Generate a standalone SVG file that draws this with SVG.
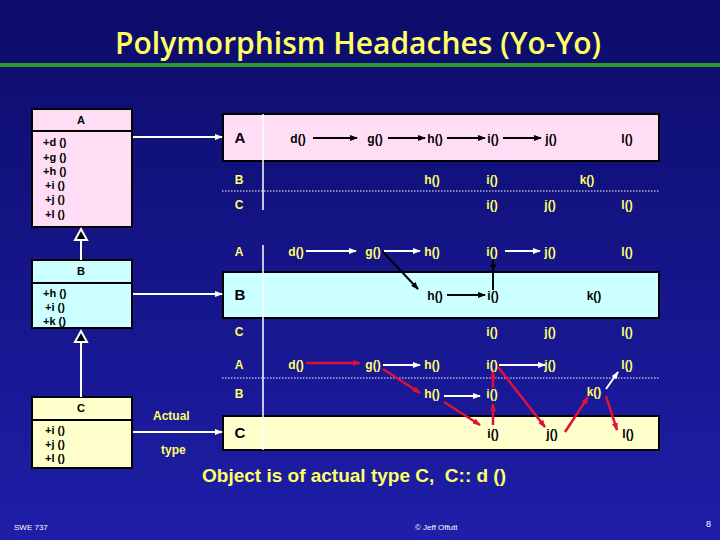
<svg xmlns="http://www.w3.org/2000/svg" width="720" height="540" viewBox="0 0 720 540">
<defs>
<linearGradient id="bg" x1="0" y1="0" x2="0" y2="1"><stop offset="0" stop-color="#0c0c6a"/><stop offset="1" stop-color="#1e1ea8"/></linearGradient>
<marker id="aw" markerWidth="8" markerHeight="6" refX="7" refY="3" orient="auto" markerUnits="userSpaceOnUse"><path d="M0,0L8,3L0,6z" fill="#fff"/></marker>
<marker id="ak" markerWidth="8" markerHeight="6" refX="7" refY="3" orient="auto" markerUnits="userSpaceOnUse"><path d="M0,0L8,3L0,6z" fill="#000"/></marker>
<marker id="ar" markerWidth="8" markerHeight="6" refX="7" refY="3" orient="auto" markerUnits="userSpaceOnUse"><path d="M0,0L8,3L0,6z" fill="#e0103a"/></marker>
<style>
text{font-family:"Liberation Sans",Arial,sans-serif;font-weight:bold}
.t{font-size:12px}
.s{font-size:11px;fill:#000}
.y{fill:#ffff66}
.k{fill:#000}
.big{font-size:19px;white-space:pre}
.w{stroke:#fff;stroke-width:2;fill:none}
.bk{stroke:#000;stroke-width:2;fill:none}
.rd{stroke:#e0103a;stroke-width:2.5;fill:none}
.box{stroke:#000;stroke-width:2}
</style>
</defs>
<rect width="720" height="540" fill="url(#bg)"/>
<text x="358" y="54" text-anchor="middle" font-size="30" fill="#ffff66" style="font-family:'Open Sans','Liberation Sans',sans-serif;font-weight:600">Polymorphism Headaches (Yo-Yo)</text>
<rect x="0" y="63" width="720" height="4" fill="#2a9a2a"/>

<g id="umlA"><rect class="box" x="32" y="109" width="100" height="118" fill="#ffddf5"/><line x1="32" y1="131" x2="132" y2="131" stroke="#000" stroke-width="2"/>
<text x="81" y="124" text-anchor="middle" class="s">A</text>
<text class="s" x="43" y="146">+d ()</text><text class="s" x="43" y="161">+g ()</text><text class="s" x="43" y="175">+h ()</text><text class="s" x="45" y="189">+i ()</text><text class="s" x="45" y="203">+j ()</text><text class="s" x="45" y="218">+l ()</text></g>
<g id="umlB"><rect class="box" x="32" y="260" width="100" height="68" fill="#ccffff"/><line x1="32" y1="283" x2="132" y2="283" stroke="#000" stroke-width="2"/>
<text x="81" y="275" text-anchor="middle" class="s">B</text>
<text class="s" x="43" y="297">+h ()</text><text class="s" x="45" y="311">+i ()</text><text class="s" x="43" y="325">+k ()</text></g>
<g id="umlC"><rect class="box" x="32" y="397" width="100" height="71" fill="#ffffcc"/><line x1="32" y1="420" x2="132" y2="420" stroke="#000" stroke-width="2"/>
<text x="81" y="412" text-anchor="middle" class="s">C</text>
<text class="s" x="45" y="434">+i ()</text><text class="s" x="45" y="448">+j ()</text><text class="s" x="45" y="462">+l ()</text></g>

<g id="tables">
<rect class="box" x="223" y="114" width="436" height="47" fill="#ffddf5"/>
<rect class="box" x="223" y="272" width="436" height="46" fill="#ccffff"/>
<rect class="box" x="223" y="416" width="436" height="34" fill="#ffffcc"/>
<line x1="263" y1="114" x2="263" y2="210" stroke="#fff" stroke-width="1.5"/>
<line x1="263" y1="245" x2="263" y2="450" stroke="#fff" stroke-width="1.5"/>
<line x1="222" y1="191" x2="659" y2="191" stroke="#fff" stroke-dasharray="1.5 1.5"/>
<line x1="222" y1="378" x2="659" y2="378" stroke="#fff" stroke-dasharray="1.5 1.5"/>
<text x="240" y="143" text-anchor="middle" font-size="15" class="k">A</text>
<g class="t k"><text x="298" y="143" text-anchor="middle">d()</text><text x="375" y="143" text-anchor="middle">g()</text><text x="435" y="143" text-anchor="middle">h()</text><text x="493" y="143" text-anchor="middle">i()</text><text x="551" y="143" text-anchor="middle">j()</text><text x="627" y="143" text-anchor="middle">l()</text></g>
<g class="t y"><text x="239" y="184" text-anchor="middle">B</text><text x="432" y="184" text-anchor="middle">h()</text><text x="492" y="184" text-anchor="middle">i()</text><text x="587" y="184" text-anchor="middle">k()</text>
<text x="239" y="209" text-anchor="middle">C</text><text x="492" y="209" text-anchor="middle">i()</text><text x="550" y="209" text-anchor="middle">j()</text><text x="627" y="209" text-anchor="middle">l()</text>
<text x="239" y="256" text-anchor="middle">A</text><text x="296" y="256" text-anchor="middle">d()</text><text x="373" y="256" text-anchor="middle">g()</text><text x="432" y="256" text-anchor="middle">h()</text><text x="492" y="256" text-anchor="middle">i()</text><text x="550" y="256" text-anchor="middle">j()</text><text x="627" y="256" text-anchor="middle">l()</text></g>
<text x="240" y="300" text-anchor="middle" font-size="15" class="k">B</text>
<g class="t k"><text x="435" y="300" text-anchor="middle">h()</text><text x="493" y="300" text-anchor="middle">i()</text><text x="594" y="300" text-anchor="middle">k()</text></g>
<g class="t y"><text x="239" y="336" text-anchor="middle">C</text><text x="492" y="336" text-anchor="middle">i()</text><text x="550" y="336" text-anchor="middle">j()</text><text x="627" y="336" text-anchor="middle">l()</text>
<text x="239" y="369" text-anchor="middle">A</text><text x="296" y="369" text-anchor="middle">d()</text><text x="373" y="369" text-anchor="middle">g()</text><text x="432" y="369" text-anchor="middle">h()</text><text x="492" y="369" text-anchor="middle">i()</text><text x="550" y="369" text-anchor="middle">j()</text><text x="627" y="369" text-anchor="middle">l()</text>
<text x="239" y="398" text-anchor="middle">B</text><text x="432" y="398" text-anchor="middle">h()</text><text x="492" y="398" text-anchor="middle">i()</text><text x="594" y="396" text-anchor="middle">k()</text></g>
<text x="240" y="438" text-anchor="middle" font-size="15" class="k">C</text>
<g class="t k"><text x="493" y="438" text-anchor="middle">i()</text><text x="552" y="438" text-anchor="middle">j()</text><text x="628" y="438" text-anchor="middle">l()</text></g>
</g>

<g id="connectors">
<line class="w" x1="81" y1="260" x2="81" y2="236"/><path d="M75,240L81,229L87,240z" fill="#000" stroke="#fff" stroke-width="2"/>
<line class="w" x1="81" y1="397" x2="81" y2="342"/><path d="M75,342L81,331L87,342z" fill="#000" stroke="#fff" stroke-width="2"/>
<line class="w" x1="133" y1="137" x2="222" y2="137" marker-end="url(#aw)"/>
<line class="w" x1="133" y1="294" x2="222" y2="294" marker-end="url(#aw)"/>
<line class="w" x1="133" y1="432" x2="222" y2="432" marker-end="url(#aw)"/>
<g class="bk"><line x1="313" y1="138" x2="357" y2="138" marker-end="url(#ak)"/><line x1="388" y1="138" x2="425" y2="138" marker-end="url(#ak)"/><line x1="447" y1="138" x2="485" y2="138" marker-end="url(#ak)"/><line x1="503" y1="138" x2="541" y2="138" marker-end="url(#ak)"/>
<line x1="447" y1="295" x2="485" y2="295" marker-end="url(#ak)"/><line x1="383" y1="252" x2="418" y2="289" marker-end="url(#ak)"/><line x1="493" y1="290" x2="493" y2="260" marker-end="url(#ak)"/></g>
<g class="w"><line x1="306" y1="251" x2="356" y2="251" marker-end="url(#aw)"/><line x1="384" y1="251" x2="420" y2="251" marker-end="url(#aw)"/><line x1="505" y1="251" x2="540" y2="251" marker-end="url(#aw)"/>
<line x1="383" y1="365" x2="420" y2="365" marker-end="url(#aw)"/><line x1="499" y1="365" x2="545" y2="365" marker-end="url(#aw)"/><line x1="444" y1="396" x2="480" y2="396" marker-end="url(#aw)"/><line x1="606" y1="389" x2="618" y2="372" marker-end="url(#aw)"/></g>
<g class="rd"><line x1="306" y1="363" x2="360" y2="363" marker-end="url(#ar)"/><line x1="383" y1="369" x2="420" y2="393" marker-end="url(#ar)"/><line x1="444" y1="402" x2="480" y2="425" marker-end="url(#ar)"/><line x1="493" y1="425" x2="493" y2="404" marker-end="url(#ar)"/><line x1="493" y1="388" x2="493" y2="372" marker-end="url(#ar)"/><line x1="498" y1="367" x2="545" y2="427" marker-end="url(#ar)"/><line x1="565" y1="432" x2="588" y2="397" marker-end="url(#ar)"/><line x1="606" y1="396" x2="617" y2="430" marker-end="url(#ar)"/></g>
</g>

<text x="153" y="420" class="t y" font-size="13">Actual</text>
<text x="161" y="454" class="t y" font-size="13">type</text>
<text x="202" y="482" class="big y">Object is of actual type C,  C:: d ()</text>
<text x="14" y="530" font-size="8" fill="#fff" style="font-weight:normal">SWE 737</text>
<text x="415" y="530" font-size="8" fill="#fff" style="font-weight:normal">© Jeff Offutt</text>
<text x="706" y="527" font-size="9" fill="#fff" style="font-weight:normal">8</text>
</svg>
